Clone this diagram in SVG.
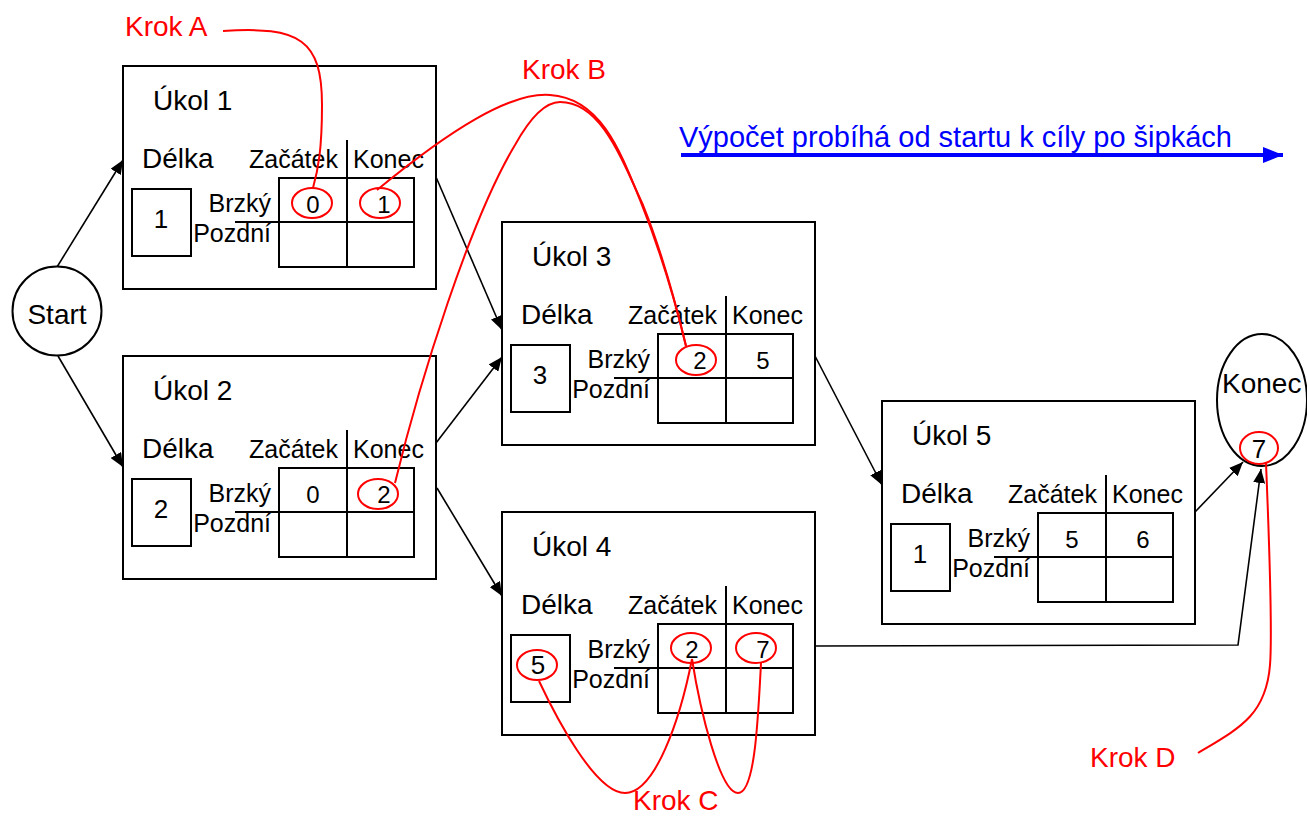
<svg xmlns="http://www.w3.org/2000/svg" width="1307" height="816" viewBox="0 0 1307 816">
<style>
text{font-family:"Liberation Sans",Arial,sans-serif;fill:#000}
.big{font-size:28px}
.sm{font-size:25px}
.num{font-size:24px;text-anchor:middle}
.dur{font-size:26px;text-anchor:middle}
.end{text-anchor:end}
.box{fill:#fff;stroke:#000;stroke-width:2}
.ln{fill:none;stroke:#000;stroke-width:2}
.con{fill:none;stroke:#000;stroke-width:1.6;marker-end:url(#ah)}
.red{fill:none;stroke:#f00;stroke-width:2}
.rt{fill:#f00;font-size:28px}
</style>
<defs>
<marker id="ah" viewBox="0 0 14 12" refX="14" refY="6" markerWidth="14" markerHeight="12" markerUnits="userSpaceOnUse" orient="auto"><path d="M0,0 L14,6 L0,12 Z" fill="#000"/></marker>
<marker id="bh" viewBox="0 0 20 16" refX="20" refY="8" markerWidth="20" markerHeight="16" markerUnits="userSpaceOnUse" orient="auto"><path d="M0,0 L20,8 L0,16 Z" fill="#00f"/></marker>
<g id="task-body">
<rect class="box" x="0" y="0" width="313" height="223"/>
<text class="big" x="19" y="102">Délka</text>
<text class="sm" x="126" y="102">Začátek</text>
<text class="sm" x="230" y="102">Konec</text>
<line class="ln" x1="224" y1="74" x2="224" y2="201"/>
<rect class="ln" x="156" y="112" width="135" height="89"/>
<line class="ln" x1="112" y1="156" x2="291" y2="156"/>
<rect class="ln" x="9" y="123" width="59" height="67"/>
<text class="sm end" x="148" y="146">Brzký</text>
<text class="sm end" x="148" y="176">Pozdní</text>
</g>
</defs>

<g id="connectors">
<line class="con" x1="57" y1="267" x2="123" y2="160"/>
<line class="con" x1="58" y1="356" x2="123" y2="467"/>
<line class="con" x1="436" y1="177" x2="502" y2="330"/>
<line class="con" x1="436" y1="443" x2="502" y2="357"/>
<line class="con" x1="437" y1="488" x2="502" y2="596"/>
<line class="con" x1="815" y1="356" x2="882" y2="485"/>
<line class="con" x1="1195" y1="512" x2="1243" y2="462"/>
<polyline class="con" points="815,646 1238,645 1261,469"/>
</g>

<g id="start">
<circle cx="57" cy="311" r="44.5" fill="#fff" stroke="#000" stroke-width="2"/>
<text class="big" x="57" y="324" text-anchor="middle">Start</text>
</g>

<g id="task1" transform="translate(123,66)">
<use href="#task-body"/>
<text class="big" x="30" y="44">Úkol 1</text>
<text class="dur" x="38" y="162">1</text>
<text class="num" x="190" y="147">0</text>
<text class="num" x="261" y="147">1</text>
</g>

<g id="task2" transform="translate(123,356)">
<use href="#task-body"/>
<text class="big" x="30" y="44">Úkol 2</text>
<text class="dur" x="38" y="162">2</text>
<text class="num" x="190" y="147">0</text>
<text class="num" x="261" y="147">2</text>
</g>

<g id="task3" transform="translate(502,222)">
<use href="#task-body"/>
<text class="big" x="30" y="44">Úkol 3</text>
<text class="dur" x="38" y="162">3</text>
<text class="num" x="198" y="147">2</text>
<text class="num" x="261" y="147">5</text>
</g>

<g id="task4" transform="translate(502,512)">
<use href="#task-body"/>
<text class="big" x="30" y="44">Úkol 4</text>
<text class="dur" x="36" y="162">5</text>
<text class="num" x="190" y="146">2</text>
<text class="num" x="261" y="146">7</text>
</g>

<g id="task5" transform="translate(882,401)">
<use href="#task-body"/>
<text class="big" x="30" y="44">Úkol 5</text>
<text class="dur" x="38" y="162">1</text>
<text class="num" x="190" y="147">5</text>
<text class="num" x="261" y="147">6</text>
</g>

<g id="konec">
<ellipse cx="1262" cy="400" rx="45" ry="66" fill="#fff" stroke="#000" stroke-width="2"/>
<text class="big" x="1222" y="393">Konec</text>
<text class="dur" x="1259" y="458">7</text>
</g>

<g id="annotations">
<ellipse class="red" cx="312" cy="203" rx="20" ry="15"/>
<ellipse class="red" cx="380" cy="203" rx="20" ry="15"/>
<ellipse class="red" cx="378" cy="494" rx="20" ry="15"/>
<ellipse class="red" cx="696" cy="360" rx="20" ry="15"/>
<ellipse class="red" cx="537" cy="665" rx="20" ry="15"/>
<ellipse class="red" cx="691" cy="648" rx="20" ry="15"/>
<ellipse class="red" cx="756" cy="648" rx="20" ry="15"/>
<ellipse class="red" cx="1259" cy="448" rx="19" ry="16"/>
<path class="red" d="M223,31 C300,26 322,40 322,105 C322,150 318,170 313,188"/>
<path class="red" d="M377,190 C450,130 510,92 550,95 C600,98 620,150 640,200 C660,250 675,300 686,346"/>
<path class="red" d="M395,483 C420,380 470,220 515,145 C530,118 545,102 560,102 C600,102 620,155 643,205 C662,252 675,300 686,346"/>
<path class="red" d="M539,681 C555,715 595,793 625,793 C655,793 680,720 692,659"/>
<path class="red" d="M692,659 C700,710 720,793 738,793 C755,793 758,720 761,663"/>
<path class="red" d="M1266,463 C1270,560 1272,640 1270,665 C1266,715 1240,728 1198,753"/>
<text class="rt" x="125" y="36">Krok A</text>
<text class="rt" x="522" y="79">Krok B</text>
<text class="rt" x="633" y="810">Krok C</text>
<text class="rt" x="1090" y="767">Krok D</text>
</g>

<g id="direction">
<text x="679" y="147" style="fill:#00f;font-size:29px">Výpočet probíhá od startu k cíly po šipkách</text>
<line x1="681" y1="155" x2="1283" y2="155" stroke="#00f" stroke-width="4" marker-end="url(#bh)"/>
</g>
</svg>
